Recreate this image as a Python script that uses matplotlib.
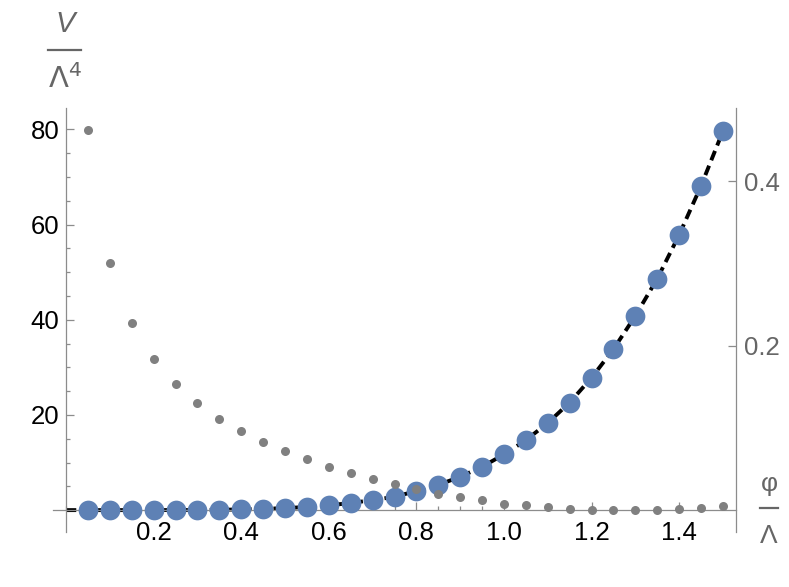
import matplotlib
matplotlib.use("Agg")
import matplotlib.pyplot as plt
from matplotlib.lines import Line2D
from matplotlib.ticker import MultipleLocator, FixedLocator

plt.rcParams['font.family'] = ['Liberation Sans', 'DejaVu Sans']

# field values phi / Lambda
phi = [0.05, 0.10, 0.15, 0.20, 0.25, 0.30, 0.35, 0.40, 0.45, 0.50,
       0.55, 0.60, 0.65, 0.70, 0.75, 0.80, 0.85, 0.90, 0.95, 1.00,
       1.05, 1.10, 1.15, 1.20, 1.25, 1.30, 1.35, 1.40, 1.45, 1.50]

# V / Lambda^4 (left axis, blue points + dashed curve)
potential = [0.0, 0.0, 0.0, 0.01, 0.01, 0.03, 0.07, 0.14, 0.25, 0.42,
             0.66, 1.0, 1.5, 2.1, 2.8, 4.0, 5.3, 7.0, 9.1, 11.7,
             14.7, 18.3, 22.6, 27.8, 33.8, 40.8, 48.6, 57.8, 68.1, 79.6]

# right axis, small gray points
gray_vals = [0.462, 0.300, 0.227, 0.184, 0.153, 0.130, 0.111, 0.096, 0.083, 0.072,
             0.062, 0.053, 0.045, 0.038, 0.032, 0.026, 0.020, 0.016, 0.012, 0.008,
             0.0057, 0.0033, 0.0012, 0.0003, 0.0, 0.0, 0.0004, 0.0012, 0.0024, 0.0045]

curve_x = [0.0] + phi
curve_y = [0.0] + potential

AXIS_GRAY = '#8c8c8c'
LABEL_GRAY = '#666666'
BLUE = '#5e81b5'
TICK_FS = 18.5

fig = plt.figure(figsize=(7.89, 5.87), dpi=100)
ax = fig.add_axes([0.0672, 0.0937, 0.8656, 0.7223])

ax.plot(curve_x, curve_y, color='black', lw=2.8, dashes=(2.6, 1.5),
        solid_capstyle='butt', dash_capstyle='butt', zorder=2)
ax.plot(phi, potential, 'o', color=BLUE, ms=14.2, mew=0, zorder=3)

ax.set_xlim(-0.03, 1.53)
ax.set_ylim(-4.6, 84.5)

ax.spines['left'].set_position(('data', 0))
ax.spines['bottom'].set_position(('data', 0))
ax.spines['top'].set_visible(False)
ax.spines['right'].set_visible(False)
for s in ('left', 'bottom'):
    ax.spines[s].set_color(AXIS_GRAY)
    ax.spines[s].set_linewidth(0.9)

ax.xaxis.set_major_locator(FixedLocator([0.2, 0.4, 0.6, 0.8, 1.0, 1.2, 1.4]))
ax.xaxis.set_minor_locator(MultipleLocator(0.05))
ax.set_xticklabels(['0.2', '0.4', '0.6', '0.8', '1.0', '1.2', '1.4'])
ax.yaxis.set_major_locator(FixedLocator([20, 40, 60, 80]))
ax.yaxis.set_minor_locator(MultipleLocator(5))

ax.tick_params(which='both', direction='in', color=AXIS_GRAY, width=0.9,
               labelsize=TICK_FS, labelcolor='black')
ax.tick_params(which='major', length=5.5)
ax.tick_params(which='minor', length=3.1)
ax.tick_params(axis='x', pad=8)
ax.tick_params(axis='y', pad=5)

# right axis for gray points, zero aligned with the left one
ax2 = ax.twinx()
ax2.set_ylim(-4.6 * 0.005784, 84.5 * 0.005784)
ax2.plot(phi, gray_vals, 'o', color='#808080', ms=6.5, mew=0, zorder=4)
for s in ('left', 'top', 'bottom'):
    ax2.spines[s].set_visible(False)
ax2.spines['right'].set_color(AXIS_GRAY)
ax2.spines['right'].set_linewidth(0.9)
ax2.yaxis.set_major_locator(FixedLocator([0.2, 0.4]))
ax2.set_yticklabels(['0.2', '0.4'])
ax2.tick_params(axis='y', which='major', direction='in', length=5.5, width=0.9,
                color=AXIS_GRAY, labelsize=TICK_FS, labelcolor=LABEL_GRAY, pad=6)

# axis labels drawn as stacked fractions
W, H = 789.0, 587.0


def fx(px):
    return px / W


def fy(py):
    return 1 - py / H


fig.text(fx(65), fy(24), 'V', fontsize=21, style='italic', color=LABEL_GRAY,
         ha='center', va='center')
fig.add_artist(Line2D([fx(48), fx(81)], [fy(50), fy(50)], color=LABEL_GRAY, lw=1.6))
fig.text(fx(65), fy(79), r'$\Lambda^{4}$', fontsize=21, color=LABEL_GRAY,
         ha='center', va='center', math_fontfamily='dejavusans')

fig.text(fx(769), fy(484), 'φ', fontsize=19, color=LABEL_GRAY,
         ha='center', va='center')
fig.add_artist(Line2D([fx(760), fx(778)], [fy(508), fy(508)], color=LABEL_GRAY, lw=1.6))
fig.text(fx(769), fy(536), 'Λ', fontsize=19, color=LABEL_GRAY,
         ha='center', va='center')

fig.savefig('out.png', dpi=100)
